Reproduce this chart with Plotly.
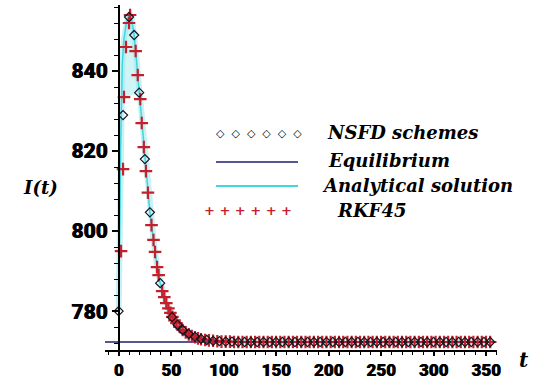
import plotly.graph_objects as go

# ---- data -------------------------------------------------------------
t_nsfd = [0, 4.2, 9.9, 14.8, 19.6, 25, 29.8, 39.6, 50.8, 56.1, 61, 66.8, 72.7,
          78.5, 84, 90, 96, 102, 108, 114, 120, 126, 132, 138, 144, 150, 156,
          162, 168, 174, 180, 186, 192, 198, 204, 210, 216, 222, 228, 234, 240,
          246, 252, 258, 264, 270, 276, 282, 288, 294, 300, 306, 312, 318, 324,
          330, 336, 342, 348, 354]
I_nsfd = [780, 829, 853.5, 849, 834.6, 818, 804.7, 787, 778.5, 776.6, 775.3, 774.3,
          773.6, 773.1, 772.8, 772.6, 772.5, 772.4, 772.4, 772.3, 772.3, 772.3,
          772.3, 772.3, 772.3, 772.3, 772.3, 772.3, 772.3, 772.3, 772.3, 772.3,
          772.3, 772.3, 772.3, 772.3, 772.3, 772.3, 772.3, 772.3, 772.3, 772.3,
          772.3, 772.3, 772.3, 772.3, 772.3, 772.3, 772.3, 772.3, 772.3, 772.3,
          772.3, 772.3, 772.3, 772.3, 772.3, 772.3, 772.3, 772.3]

t_rkf = [2.3, 4.2, 5.1, 7, 9.9, 10.9, 16.2, 18.2, 20.6, 22, 24, 26, 27.9, 31.3,
         33.2, 34.7, 36.6, 38.1, 41.5, 43.5, 45.4, 47.4, 49.3, 51.2, 53.2, 55.1,
         58, 61, 63.9, 66.8, 69.7, 72.7, 75.6, 78.5, 82.4, 86, 90, 94, 98, 102,
         106, 110, 114, 118, 122, 126, 130, 134, 138, 142, 146, 150, 154, 158,
         162, 166, 170, 174, 178, 182, 186, 190, 194, 198, 202, 206, 210, 214,
         218, 222, 226, 230, 234, 238, 242, 246, 250, 254, 258, 262, 266, 270,
         274, 278, 282, 286, 290, 294, 298, 302, 306, 310, 314, 318, 322, 326,
         330, 334, 338, 342, 346, 350, 354, 357]
I_rkf = [795, 815.5, 833.5, 846, 852, 854, 845, 839, 833, 827, 821, 815, 809.6,
         801.5, 797.8, 794.8, 791, 789, 785, 783.5, 782, 780.7, 779.6, 778.6,
         777.7, 777, 776.1, 775.3, 774.7, 774.2, 773.8, 773.5, 773.2, 773,
         772.8, 772.7, 772.6, 772.5, 772.4, 772.4, 772.4, 772.3, 772.3, 772.3,
         772.3, 772.3, 772.3, 772.3, 772.3, 772.3, 772.3, 772.3, 772.3, 772.3,
         772.3, 772.3, 772.3, 772.3, 772.3, 772.3, 772.3, 772.3, 772.3, 772.3,
         772.3, 772.3, 772.3, 772.3, 772.3, 772.3, 772.3, 772.3, 772.3, 772.3,
         772.3, 772.3, 772.3, 772.3, 772.3, 772.3, 772.3, 772.3, 772.3, 772.3,
         772.3, 772.3, 772.3, 772.3, 772.3, 772.3, 772.3, 772.3, 772.3, 772.3,
         772.3, 772.3, 772.3, 772.3, 772.3, 772.3, 772.3, 772.3, 772.3]

t_exact = [0, 0.7, 1.3, 1.8, 2.5, 3.5, 5, 7, 9, 11, 12, 14.8, 16.2, 18.2, 19.6,
           22, 25, 27.9, 29.8, 33.2, 36.6, 39.6, 43.5, 47.4, 52.2, 57.1, 66.8,
           76.5, 86.3, 96, 115, 145, 200, 250, 300, 357]
I_exact = [780, 790, 805, 820, 833, 842, 848, 851.5, 853.5, 854, 853.5, 849,
           845, 839, 834.6, 827, 818, 809.6, 804.7, 797.8, 791, 787, 783.5,
           780.7, 777.8, 776, 774.2, 773.2, 772.8, 772.5, 772.4, 772.3, 772.3,
           772.3, 772.3, 772.3]

t_equil = [-13, 357]
I_equil = [772.3, 772.3]

x_ticks = [0, 50, 100, 150, 200, 250, 300, 350]
y_ticks = [780, 800, 820, 840]

X_RANGE = [-13, 360.5]
Y_RANGE = [770.3, 856.5]

# ---- figure -----------------------------------------------------------
W, H = 557, 383
ML, MR, MT, MB = 105, 60, 5, 33
PW, PH = W - ML - MR, H - MT - MB


def px(x):
    return (x - ML) / PW


def py(y):
    return (H - MB - y) / PH


RED = "rgb(196,32,44)"
CYAN = "rgb(64,214,222)"
NAVY = "rgb(30,30,110)"

fig = go.Figure()

# light cyan wash between the two branches near the peak
i0 = next(i for i, v in enumerate(I_exact) if v >= 833)
i1 = max(i for i, v in enumerate(I_exact) if v >= 834)
fig.add_trace(go.Scatter(
    x=t_exact[i0:i1 + 1], y=I_exact[i0:i1 + 1], mode="lines", fill="toself",
    fillcolor="rgba(175,238,242,0.6)", line=dict(width=0), hoverinfo="skip",
    showlegend=False))
# analytical solution: soft halo plus core line
fig.add_trace(go.Scatter(
    x=t_exact, y=I_exact, mode="lines",
    line=dict(color="rgba(160,232,238,0.6)", width=6),
    hoverinfo="skip", showlegend=False))
fig.add_trace(go.Scatter(
    x=t_exact, y=I_exact, mode="lines", line=dict(color=CYAN, width=1.5),
    showlegend=False))
fig.add_trace(go.Scatter(
    x=t_equil, y=I_equil, mode="lines", line=dict(color=NAVY, width=1.4),
    showlegend=False))
fig.add_trace(go.Scatter(
    x=t_rkf, y=I_rkf, mode="markers",
    marker=dict(symbol="cross-thin", size=9, line=dict(color=RED, width=2.2)),
    showlegend=False))
fig.add_trace(go.Scatter(
    x=t_nsfd, y=I_nsfd, mode="markers",
    marker=dict(symbol="diamond-open", size=7, color="rgb(20,20,30)",
                line=dict(width=1.2)),
    showlegend=False))

tick_font = dict(family="Roboto, DejaVu Sans", size=17, color="black",
                 weight=900, shadow="0.6px 0px 0px black")

fig.update_xaxes(
    range=X_RANGE, showgrid=False, zeroline=False, showline=True,
    linecolor="black", linewidth=1.5, tickmode="array", tickvals=x_ticks,
    ticks="outside", ticklen=4, tickwidth=1.5, tickcolor="black",
    tickfont=tick_font, automargin=False, ticklabelstandoff=0,
    minor=dict(ticks="outside", ticklen=3, dtick=10, tick0=0,
               tickcolor="black", tickwidth=1.2),
)
fig.update_yaxes(
    range=Y_RANGE, showgrid=False, zeroline=False, showline=True,
    linecolor="black", linewidth=1.5, tickmode="array", tickvals=y_ticks,
    ticks="outside", ticklen=6, tickwidth=1.5, tickcolor="black",
    tickfont=dict(tick_font, size=21), anchor="free", automargin=False,
    position=(0 - X_RANGE[0]) / (X_RANGE[1] - X_RANGE[0]),
    minor=dict(ticks="outside", ticklen=4, dtick=4, tick0=780,
               tickcolor="black", tickwidth=1.2),
)

label_font = dict(family="DejaVu Serif", size=18,
                  color="black", weight="bold", style="italic")

annotations = [
    dict(text="I(t)", x=px(40), y=py(187), xanchor="center", yanchor="middle",
         font=label_font),
    dict(text="t", x=px(524), y=py(360), xanchor="center", yanchor="middle",
         font=dict(label_font, size=20)),
    # legend entries
    dict(text="◇  ◇  ◇  ◇  ◇  ◇", x=px(259), y=py(133), xanchor="center",
         yanchor="middle", font=dict(family="DejaVu Sans", size=11,
                                     color="black")),
    dict(text="NSFD schemes", x=px(325), y=py(132), xanchor="left",
         yanchor="middle", font=label_font),
    dict(text="Equilibrium", x=px(326), y=py(160), xanchor="left",
         yanchor="middle", font=label_font),
    dict(text="Analytical solution", x=px(320), y=py(186), xanchor="left",
         yanchor="middle", font=label_font),
    dict(text="+ + + + + +", x=px(248), y=py(210), xanchor="center",
         yanchor="middle", font=dict(family="DejaVu Sans", size=13,
                                     color=RED, weight="bold")),
    dict(text="RKF45", x=px(335), y=py(210), xanchor="left",
         yanchor="middle", font=label_font),
]
for a in annotations:
    a.update(xref="paper", yref="paper", showarrow=False)

shapes = [
    dict(type="line", xref="paper", yref="paper", x0=px(216), x1=px(298),
         y0=py(162), y1=py(162), line=dict(color=NAVY, width=1.6)),
    dict(type="line", xref="paper", yref="paper", x0=px(216), x1=px(298),
         y0=py(186), y1=py(186), line=dict(color=CYAN, width=1.8)),
]

fig.update_layout(
    width=W, height=H, margin=dict(l=ML, r=MR, t=MT, b=MB),
    paper_bgcolor="white", plot_bgcolor="white",
    annotations=annotations, shapes=shapes, showlegend=False,
)

fig.write_html("out.html")
